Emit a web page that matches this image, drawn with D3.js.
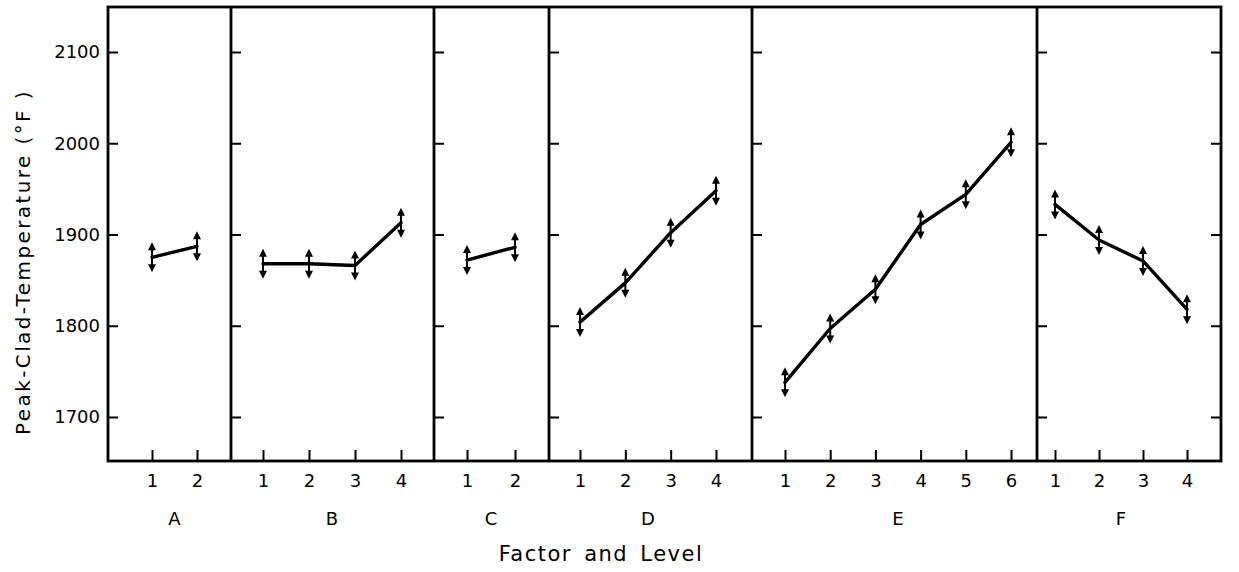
<!DOCTYPE html>
<html><head><meta charset="utf-8">
<script src="https://cdn.jsdelivr.net/npm/d3@7"></script>
<style>html,body{margin:0;padding:0;background:#fff;}svg{display:block;}text{font-family:"DejaVu Sans",sans-serif;fill:#000;}</style>
</head><body>
<svg id="chart" width="1239" height="572"></svg>
<script>
// ---- data ----
const factors = ["A", "B", "C", "D", "E", "F"];
const levelsA = [1, 2];
const levelsB = [1, 2, 3, 4];
const levelsC = [1, 2];
const levelsD = [1, 2, 3, 4];
const levelsE = [1, 2, 3, 4, 5, 6];
const levelsF = [1, 2, 3, 4];
const valuesA = [1875, 1887];
const valuesB = [1868, 1868, 1866, 1913];
const valuesC = [1872, 1886];
const valuesD = [1804, 1847, 1902, 1948];
const valuesE = [1738, 1797, 1840, 1911, 1944, 2001];
const valuesF = [1933, 1894, 1871, 1818];
const yTicks = [1700, 1800, 1900, 2000, 2100];
const yTitle = "Peak-Clad-Temperature  (°F )";
const xTitle = "Factor  and  Level";

// ---- layout ----
const svg = d3.select("#chart");
const frameTop = 7, frameBottom = 461;
const y = d3.scaleLinear().domain([1700, 2100]).range([417, 52]);
const panelEdges = [108, 231, 434, 549, 752, 1037, 1221];
const padL = [44, 32, 33, 31, 33, 18];
const padR = [34, 33, 34, 36, 26, 34];
const levelSets = [levelsA, levelsB, levelsC, levelsD, levelsE, levelsF];
const valueSets = [valuesA, valuesB, valuesC, valuesD, valuesE, valuesF];

const frame = svg.append("g");
frame.append("rect").attr("x", panelEdges[0]).attr("y", frameTop)
  .attr("width", panelEdges[6] - panelEdges[0]).attr("height", frameBottom - frameTop)
  .attr("fill", "none").attr("stroke", "#000").attr("stroke-width", 2.8);

const yAxis = d3.axisLeft(y).tickValues(yTicks).tickSize(0).tickPadding(8).tickFormat(d3.format("d"));
const gy = svg.append("g").attr("transform", `translate(${panelEdges[0]},0)`).call(yAxis);
gy.select(".domain").remove();
gy.selectAll("text").style("font-size", "18px").style("font-family", "DejaVu Sans");

factors.forEach((f, i) => {
  const x0 = panelEdges[i], x1 = panelEdges[i + 1];
  const lv = levelSets[i], vals = valueSets[i];
  const x = d3.scaleLinear().domain([lv[0], lv[lv.length - 1]]).range([x0 + padL[i], x1 - padR[i]]);
  const g = svg.append("g");
  if (i > 0) g.append("line").attr("x1", x0).attr("x2", x0).attr("y1", frameTop).attr("y2", frameBottom)
    .attr("stroke", "#000").attr("stroke-width", 2.8);
  const yt = d3.axisRight(y).tickValues(yTicks).tickSize(10).tickFormat("");
  const gyt = g.append("g").attr("transform", `translate(${x0},0)`).call(yt);
  gyt.select(".domain").remove();
  gyt.selectAll("line").attr("stroke-width", 2);
  const xt = d3.axisBottom(x).tickValues(lv).tickSize(0).tickPadding(13).tickFormat(d3.format("d"));
  const gx = g.append("g").attr("transform", `translate(0,${frameBottom})`).call(xt);
  gx.select(".domain").remove();
  gx.selectAll("text").style("font-size", "18px").style("font-family", "DejaVu Sans");
  gx.selectAll(".tick").append("line").attr("y1", 0).attr("y2", -11).attr("stroke", "#000").attr("stroke-width", 2);
  g.append("text").attr("x", (x(lv[0]) + x(lv[lv.length - 1])) / 2).attr("y", 525)
    .attr("text-anchor", "middle").style("font-size", "18px").text(f);
  const pts = lv.map((l, k) => [x(l), y(vals[k])]);
  g.append("path").attr("d", d3.line()(pts)).attr("fill", "none").attr("stroke", "#000")
    .attr("stroke-width", 3.4).attr("stroke-linejoin", "round").attr("stroke-linecap", "round");
  pts.forEach(([px, py]) => {
    const h = 15, ah = 8, aw = 4;
    g.append("line").attr("x1", px).attr("x2", px).attr("y1", py - h + ah - 1).attr("y2", py + h - ah + 1)
      .attr("stroke", "#000").attr("stroke-width", 2);
    g.append("path").attr("d", `M${px},${py - h} L${px - aw},${py - h + ah} L${px + aw},${py - h + ah} Z`).attr("fill", "#000");
    g.append("path").attr("d", `M${px},${py + h} L${px - aw},${py + h - ah} L${px + aw},${py + h - ah} Z`).attr("fill", "#000");
  });
});

const yr = d3.axisLeft(y).tickValues(yTicks).tickSize(10).tickFormat("");
const gyr = svg.append("g").attr("transform", `translate(${panelEdges[6]},0)`).call(yr);
gyr.select(".domain").remove();
gyr.selectAll("line").attr("stroke-width", 2);

svg.append("text").attr("transform", "translate(30,262) rotate(-90)").attr("text-anchor", "middle")
  .style("font-size", "20px").style("letter-spacing", "2.4px").text(yTitle);
svg.append("text").attr("x", 601).attr("y", 561).attr("text-anchor", "middle")
  .style("font-size", "21px").style("letter-spacing", "1.5px").style("word-spacing", "4px").text(xTitle);
</script>
</body></html>
